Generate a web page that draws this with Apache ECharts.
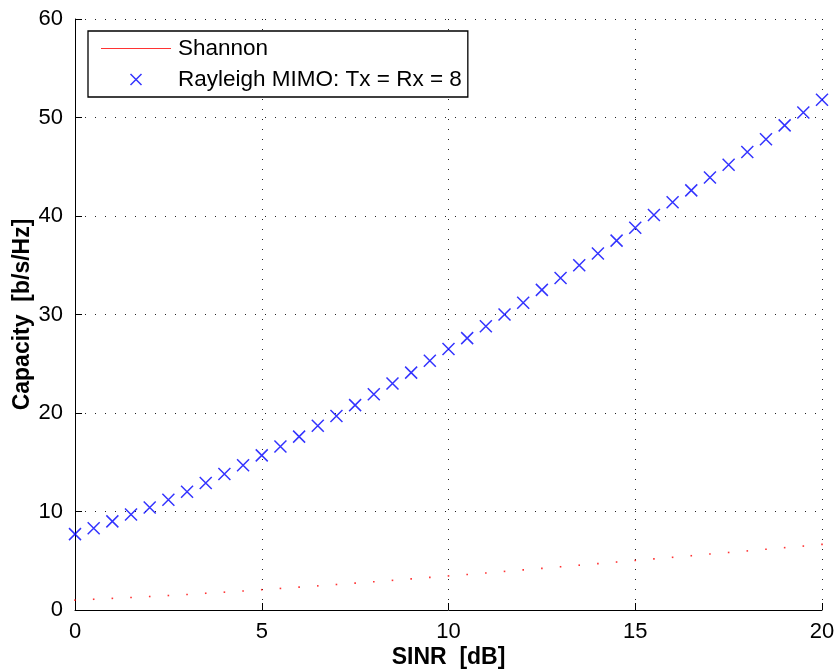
<!DOCTYPE html>
<html>
<head>
<meta charset="utf-8">
<script src="https://cdn.jsdelivr.net/npm/echarts@6/dist/echarts.min.js"></script>
<style>
  html, body { margin: 0; padding: 0; background: #fff; }
  #main { width: 837px; height: 672px; }
</style>
</head>
<body>
<div id="main"></div>
<script>
// SINR axis (dB)
var sinrDb = [0, 0.5, 1, 1.5, 2, 2.5, 3, 3.5, 4, 4.5, 5, 5.5, 6, 6.5, 7, 7.5, 8, 8.5, 9, 9.5,
  10, 10.5, 11, 11.5, 12, 12.5, 13, 13.5, 14, 14.5, 15, 15.5, 16, 16.5, 17, 17.5, 18, 18.5, 19, 19.5, 20];

// capacity values, b/s/Hz
var shannon = [1.00, 1.09, 1.18, 1.27, 1.37, 1.47, 1.58, 1.70, 1.81, 1.93, 2.06, 2.19, 2.32, 2.45,
  2.59, 2.73, 2.87, 3.01, 3.16, 3.31, 3.46, 3.61, 3.76, 3.92, 4.07, 4.23, 4.39, 4.55, 4.71, 4.87,
  5.03, 5.19, 5.35, 5.51, 5.68, 5.84, 6.00, 6.17, 6.33, 6.49, 6.66];
var rayleigh = [7.7, 8.3, 9.0, 9.7, 10.4, 11.2, 12.0, 12.9, 13.8, 14.7, 15.7, 16.6, 17.6, 18.7,
  19.7, 20.8, 21.9, 23.0, 24.1, 25.3, 26.5, 27.6, 28.8, 30.0, 31.2, 32.5, 33.7, 35.0, 36.2, 37.5,
  38.8, 40.1, 41.4, 42.6, 43.9, 45.2, 46.5, 47.8, 49.2, 50.5, 51.8];

var xTicks = [0, 5, 10, 15, 20];
var yTicks = [0, 10, 20, 30, 40, 50, 60];

var seriesNames = ['Shannon', 'Rayleigh MIMO: Tx = Rx = 8'];

var crossPath = 'path://M0,0L10,10M10,0L0,10';
var font = 'Liberation Sans, Arial, Helvetica, sans-serif';

function pairs(xs, ys) {
  return xs.map(function (x, i) { return [x, ys[i]]; });
}

var dotted = { color: '#222', width: 1, type: [1, 9] };

var chart = echarts.init(document.getElementById('main'), null, { renderer: 'canvas' });
chart.setOption({
  animation: false,
  backgroundColor: '#fff',
  grid: { left: 75, right: 15, top: 19, bottom: 62, containLabel: false, outerBoundsMode: 'none' },
  legend: {
    orient: 'vertical',
    left: 88,
    top: 31,
    padding: [6, 6, 6, 13],
    itemGap: 8,
    itemWidth: 70,
    itemHeight: 11,
    backgroundColor: '#fff',
    borderColor: '#000',
    borderWidth: 1.3,
    borderRadius: 0,
    textStyle: { fontFamily: font, fontSize: 22.5, lineHeight: 22, color: '#000', padding: [0, 0, 0, 2] },
    data: [
      { name: seriesNames[0], icon: 'path://M0,0H70V1H0Z', itemStyle: { color: '#ff0000', borderWidth: 0 } },
      { name: seriesNames[1], icon: crossPath, itemStyle: { color: 'rgba(0,0,0,0)', borderColor: '#0000ff', borderWidth: 1.5 } }
    ]
  },
  xAxis: {
    type: 'value',
    min: 0,
    max: 20,
    interval: 5,
    name: 'SINR  [dB]',
    nameLocation: 'middle',
    nameGap: 36,
    nameMoveOverlap: false,
    nameTextStyle: { fontFamily: font, fontSize: 23, fontWeight: 'bold', color: '#000' },
    axisLine: { show: true, onZero: false, lineStyle: { color: '#000', width: 1 } },
    axisTick: { show: true, inside: true, length: 7, lineStyle: { color: '#000' } },
    axisLabel: {
      fontFamily: font, fontSize: 22, color: '#000', margin: 11,
      formatter: function (v) { return xTicks.indexOf(v) >= 0 ? String(v) : ''; }
    },
    splitLine: { show: true, lineStyle: dotted }
  },
  yAxis: {
    type: 'value',
    min: 0,
    max: 60,
    interval: 10,
    name: 'Capacity  [b/s/Hz]',
    nameLocation: 'middle',
    nameGap: 41,
    nameMoveOverlap: false,
    nameTextStyle: { fontFamily: font, fontSize: 23, fontWeight: 'bold', color: '#000' },
    axisLine: { show: true, onZero: false, lineStyle: { color: '#000', width: 1 } },
    axisTick: { show: true, inside: true, length: 7, lineStyle: { color: '#000' } },
    axisLabel: {
      fontFamily: font, fontSize: 22, color: '#000', margin: 12,
      formatter: function (v) { return yTicks.indexOf(v) >= 0 ? String(v) : ''; }
    },
    splitLine: { show: true, lineStyle: dotted }
  },
  series: [
    {
      name: seriesNames[0],
      type: 'scatter',
      symbol: 'rect',
      symbolSize: 1.6,
      itemStyle: { color: '#ff0000' },
      data: pairs(sinrDb, shannon),
      z: 3
    },
    {
      name: seriesNames[1],
      type: 'scatter',
      symbol: crossPath,
      symbolSize: 12,
      itemStyle: { color: 'rgba(0,0,0,0)', borderColor: '#0000ff', borderWidth: 1.5 },
      data: pairs(sinrDb, rayleigh),
      z: 4
    }
  ]
});
</script>
</body>
</html>
